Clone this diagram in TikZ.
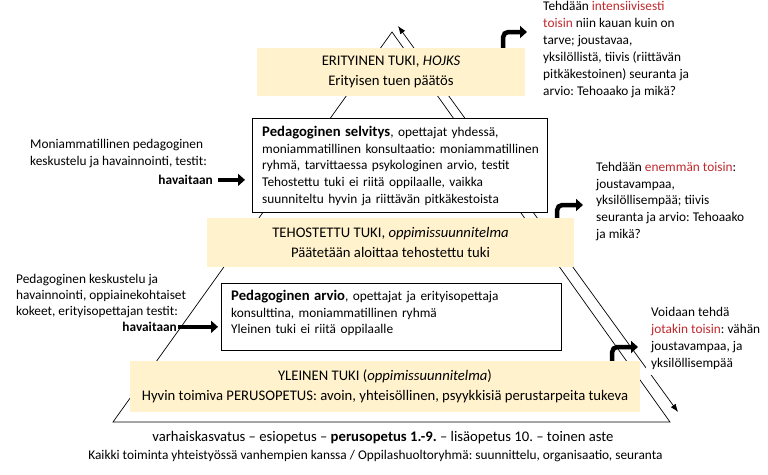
\documentclass[tikz,border=0pt]{standalone}
\usepackage{fontspec}
\setmainfont{Carlito}
\usetikzlibrary{arrows.meta}
\definecolor{paleyel}{HTML}{FFF2CC}
\definecolor{redtxt}{HTML}{C0282D}
\newcommand{\szs}{\fontsize{13.33}{16.7}\selectfont}
\newcommand{\szl}{\fontsize{14.67}{20}\selectfont}
\newcommand{\rd}[1]{\textcolor{redtxt}{#1}}
\frenchspacing
\begin{document}
\begin{tikzpicture}[x=1pt,y=-1pt,
 txt/.style={inner sep=0pt, font=\szs, align=left, anchor=north west},
 yelbox/.style={fill=paleyel, inner sep=0pt, font=\szl, align=center},
 wbox/.style={draw, fill=white, line width=0.8pt, inner sep=0pt, anchor=north west},
 fatarrow/.style={line width=4pt, -{Triangle[length=7pt,width=12pt]}},
 bentarrow/.style={line width=4.5pt, rounded corners=5pt, -{Triangle[length=7pt,width=12pt]}},
 thinline/.style={line width=0.7pt}
]
\useasboundingbox (0,0) rectangle (768,474);
% triangle
\coordinate (apex) at (392,32);
\coordinate (bl) at (113,422);
\coordinate (br) at (670,422);
\draw[thinline] (bl) -- (apex) -- (br) -- cycle;
% double arrow parallel to right side
\coordinate (da1) at (398,26);
\coordinate (da2) at (678,412);
\draw[thinline, {Latex[length=8pt,width=6pt]}-{Latex[length=8pt,width=6pt]}] (da1) -- (da2);

% yellow boxes
\node[yelbox, minimum width=268, minimum height=48] (erit) at (391,72)
  {ERITYINEN TUKI, \textit{HOJKS}\\Erityisen tuen päätös};
\node[yelbox, minimum width=367, minimum height=49] (teho) at (390.5,242.5)
  {TEHOSTETTU TUKI, \textit{oppimissuunnitelma}\\Päätetään aloittaa tehostettu tuki};
\node[yelbox, minimum width=510, minimum height=51] (yle) at (385,386.5)
  {YLEINEN TUKI (\textit{oppimissuunnitelma})\\Hyvin toimiva PERUSOPETUS: avoin, yhteisöllinen, psyykkisiä perustarpeita tukeva};

% white boxes
\node[wbox, minimum width=295, minimum height=94] (selv) at (252,118) {};
\node[txt, text width=285] (selvtxt) at (262,126)
  {{\szl\textbf{Pedagoginen selvitys}}, opettajat yhdessä,\\
   moniammatillinen konsultaatio: moniammatillinen\\
   ryhmä, tarvittaessa psykologinen arvio, testit\\
   Tehostettu tuki ei riitä oppilaalle, vaikka\\
   suunniteltu hyvin ja riittävän pitkäkestoista};
\node[wbox, minimum width=340, minimum height=67] (arvio) at (221,283) {};
\node[txt, text width=320] (arviotxt) at (231,290)
  {{\szl\textbf{Pedagoginen arvio}}, opettajat ja erityisopettaja\\
   konsulttina, moniammatillinen ryhmä\\
   Yleinen tuki ei riitä oppilaalle};

% left texts
\node[txt] (mon) at (30,139)
  {Moniammatillinen pedagoginen\\keskustelu ja havainnointi, testit:};
\node[inner sep=0pt, font=\szs\bfseries, anchor=base east] (hav1) at (213,184.5) {havaitaan};
\node[txt, font=\fontsize{13.33}{15.8}\selectfont] (ped) at (16,274)
  {Pedagoginen keskustelu ja\\havainnointi, oppiainekohtaiset\\kokeet, erityisopettajan testit:};
\node[inner sep=0pt, font=\szs\bfseries, anchor=base east] (hav2) at (177,331.5) {havaitaan};
\draw[fatarrow, shorten <=5pt, shorten >=7pt] (hav1.east) -- (hav1.east -| selv.west);
\draw[fatarrow, shorten <=1pt, shorten >=3pt] (hav2.east) -- (hav2.east -| arvio.west);

% right texts
\node[txt, font=\fontsize{13.33}{17}\selectfont] (int) at (543,1)
  {Tehdään \rd{intensiivisesti}\\\rd{toisin} niin kauan kuin on\\tarve; joustavaa,\\yksilöllistä, tiivis (riittävän\\pitkäkestoinen) seuranta ja\\arvio: Tehoaako ja mikä?};
\node[txt] (enem) at (596,162)
  {Tehdään \rd{enemmän toisin}:\\joustavampaa,\\yksilöllisempää; tiivis\\seuranta ja arvio: Tehoaako\\ja mikä?};
\node[txt, inner sep=5pt, fill=white, font=\fontsize{13.33}{17}\selectfont] (voi) at (646,302)
  {Voidaan tehdä\\\rd{jotakin toisin}: vähän\\joustavampaa, ja\\yksilöllisempää};

% bent arrows
\coordinate (tip1) at (527,32);
\coordinate (tip2) at (583,205);
\coordinate (tip3) at (638,347);
\draw[bentarrow] ([xshift=-22pt]erit.north east) |- (tip1);
\draw[bentarrow] ([xshift=-17pt]teho.north east) |- (tip2);
\draw[bentarrow] ([xshift=-28pt]yle.north east) |- (tip3);

% bottom texts
\node[inner sep=0pt, font=\szl, anchor=base] (stages) at (383,441)
  {varhaiskasvatus – esiopetus – \textbf{perusopetus 1.-9.} – lisäopetus 10. – toinen aste};
\node[inner sep=0pt, font=\szs, anchor=base] (coop) at (375.5,459.5)
  {Kaikki toiminta yhteistyössä vanhempien kanssa / Oppilashuoltoryhmä: suunnittelu, organisaatio, seuranta};
\end{tikzpicture}
\end{document}
